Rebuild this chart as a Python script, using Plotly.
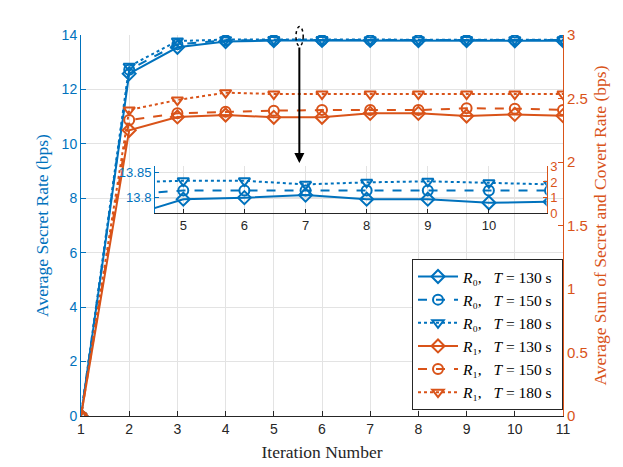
import plotly.graph_objects as go

BLUE = "#0072BD"
ORANGE = "#D95319"

iterations = [1, 2, 3, 4, 5, 6, 7, 8, 9, 10, 11]

# secret rate R0 (left axis)
r0_t130 = [0, 12.58, 13.55, 13.76, 13.797, 13.80, 13.805, 13.797, 13.797, 13.790, 13.792]
r0_t150 = [0, 12.72, 13.66, 13.806, 13.814, 13.814, 13.814, 13.814, 13.814, 13.814, 13.814]
r0_t180 = [0, 12.85, 13.78, 13.830, 13.833, 13.833, 13.826, 13.830, 13.832, 13.829, 13.826]

# sum of secret and covert rate R1 (right axis)
r1_t130 = [0, 2.25, 2.355, 2.37, 2.352, 2.352, 2.383, 2.383, 2.362, 2.375, 2.365]
r1_t150 = [0, 2.33, 2.383, 2.396, 2.404, 2.409, 2.409, 2.409, 2.423, 2.42, 2.41]
r1_t180 = [0, 2.41, 2.488, 2.546, 2.535, 2.535, 2.535, 2.535, 2.535, 2.535, 2.535]

labels_T = ["130", "150", "180"]
styles = [("solid", "diamond-open"), ("dash", "circle-open"), ("dot", "triangle-down-open")]


def legend_name(sub, T):
    return "<i>R</i>" + sub + ",&nbsp;&nbsp; <i>T</i>&nbsp;=&nbsp;" + T + "&nbsp;s&nbsp;"


fig = go.Figure()

for vals, T, (dash, sym) in zip([r0_t130, r0_t150, r0_t180], labels_T, styles):
    fig.add_trace(go.Scatter(
        x=iterations, y=vals, mode="lines+markers", name=legend_name("₀", T),
        line=dict(color=BLUE, width=2, dash=dash),
        marker=dict(symbol=sym, size=10, color=BLUE, line=dict(width=2, color=BLUE)),
        xaxis="x", yaxis="y"))

for vals, T, (dash, sym) in zip([r1_t130, r1_t150, r1_t180], labels_T, styles):
    fig.add_trace(go.Scatter(
        x=iterations, y=vals, mode="lines+markers", name=legend_name("₁", T),
        line=dict(color=ORANGE, width=2, dash=dash),
        marker=dict(symbol=sym, size=10, color=ORANGE, line=dict(width=2, color=ORANGE)),
        xaxis="x", yaxis="y2"))

# inset (zoom on R0)
for vals, (dash, sym) in zip([r0_t130, r0_t150, r0_t180], styles):
    fig.add_trace(go.Scatter(
        x=iterations, y=vals, mode="lines+markers", showlegend=False,
        line=dict(color=BLUE, width=2, dash=dash),
        marker=dict(symbol=sym, size=10, color=BLUE, line=dict(width=2, color=BLUE)),
        xaxis="x3", yaxis="y3"))
fig.add_trace(go.Scatter(x=[5], y=[-1], mode="markers", showlegend=False,
                         marker=dict(opacity=0), hoverinfo="skip",
                         xaxis="x3", yaxis="y4"))

tickfont = dict(family="Liberation Sans", size=14)
titlefont = dict(family="Liberation Serif", size=17.5)
grid = "#e3e3e3"

fig.update_layout(
    width=623, height=467,
    # page is drawn with an 8px body offset, margins compensate
    margin=dict(l=73, r=68, t=27, b=59),
    paper_bgcolor="white", plot_bgcolor="rgba(0,0,0,0)",
    xaxis=dict(range=[1, 11], dtick=1, ticks="inside", ticklen=5, showline=True,
               linecolor="#262626", linewidth=1, tickcolor="#262626", gridcolor=grid,
               zeroline=False, tickfont=dict(tickfont, color="#262626"),
               title=dict(text="Iteration Number", font=dict(titlefont, color="#262626"), standoff=9)),
    yaxis=dict(range=[0, 14], dtick=2, ticks="inside", ticklen=5, showline=True,
               linecolor=BLUE, tickcolor=BLUE, gridcolor=grid, zeroline=False,
               tickfont=dict(tickfont, color=BLUE),
               title=dict(text="Average Secret Rate (bps)", font=dict(titlefont, color=BLUE), standoff=8)),
    yaxis2=dict(range=[0, 3], dtick=0.5, overlaying="y", side="right", ticks="inside", ticklen=5,
                showline=True, linecolor=ORANGE, tickcolor=ORANGE, showgrid=False, zeroline=False,
                tickfont=dict(tickfont, size=15, color=ORANGE),
                title=dict(text="Average Sum of Secret and Covert Rate (bps)",
                           font=dict(titlefont, color=ORANGE), standoff=6)),
    xaxis3=dict(domain=[0.1535, 0.966], anchor="y3", range=[4.537, 10.944], dtick=1,
                ticks="inside", ticklen=4, showline=True, linecolor="#262626", tickcolor="#262626",
                gridcolor=grid, zeroline=False, tickfont=dict(tickfont, size=13, color="#262626")),
    yaxis3=dict(domain=[0.5328, 0.6549], anchor="x3", range=[13.77, 13.861],
                tickvals=[13.8, 13.85], ticktext=["13.8", "13.85"], ticks="inside", ticklen=4,
                showline=True, linecolor=BLUE, tickcolor=BLUE, gridcolor=grid, zeroline=False,
                tickfont=dict(tickfont, size=13, color=BLUE)),
    yaxis4=dict(overlaying="y3", anchor="x3", side="right", range=[0, 3], dtick=1,
                ticks="inside", ticklen=4, showline=True, linecolor=ORANGE, tickcolor=ORANGE,
                showgrid=False, zeroline=False, tickfont=dict(tickfont, size=13, color=ORANGE)),
    legend=dict(x=1.0, y=0.016, xanchor="right", yanchor="bottom",
                bgcolor="white", bordercolor="#262626", borderwidth=1,
                font=dict(family="Liberation Serif", size=15.5, color="black"),
                tracegroupgap=0, itemwidth=40),
    showlegend=True,
)

# dotted ellipse marking the zoomed region and arrow to the inset
fig.add_shape(type="circle", xref="paper", yref="paper",
              x0=0.446, x1=0.461, y0=0.971, y1=1.022,
              line=dict(color="black", width=1.5, dash="dot"))
fig.add_annotation(xref="paper", yref="paper", x=0.453, y=0.664, text="",
                   showarrow=True, axref="pixel", ayref="pixel", ax=0, ay=-117,
                   arrowhead=2, arrowsize=1, arrowwidth=2, arrowcolor="black")

fig.write_html("out.html")
